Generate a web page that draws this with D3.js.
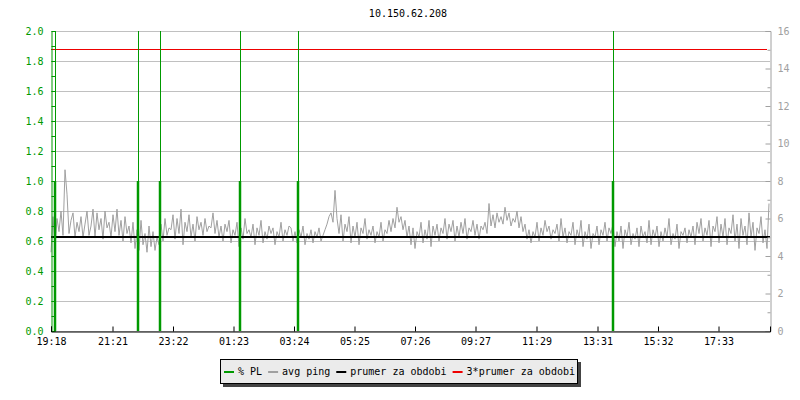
<!DOCTYPE html>
<html>
<head>
<meta charset="utf-8">
<script src="https://cdn.jsdelivr.net/npm/d3@7"></script>
<style>
  body { margin: 0; background: #fff; }
  text { font-family: "DejaVu Sans Mono", monospace; font-size: 10px; }
</style>
</head>
<body>
<div id="chart"></div>
<script>
// ping samples every 4 minutes, ms (right axis)
const pingMs = [
  4.2, 6.1, 4.5, 6.0, 5.3, 6.4, 5.1, 8.6, 7.3, 5.2, 5.9, 6.3, 5.0, 5.8, 5.3, 6.1, 5.0, 5.7, 6.4, 5.1,
  5.6, 6.5, 5.0, 6.3, 5.4, 6.0, 4.9, 6.4, 5.5, 5.8, 5.0, 6.2, 5.3, 6.5, 5.1, 5.9, 4.8, 6.1, 5.2, 5.6,
  4.7, 5.8, 4.4, 5.4, 4.3, 5.9, 4.6, 5.2, 4.2, 5.6, 4.5, 5.3, 4.3, 5.0, 4.6, 5.7, 4.8, 6.0, 5.1, 5.5,
  5.4, 6.2, 4.9, 6.0, 5.2, 6.5, 4.6, 5.8, 5.3, 6.2, 5.0, 5.7, 4.8, 6.1, 5.4, 5.8, 5.1, 6.0, 5.3, 5.6,
  5.5, 6.3, 5.2, 5.9, 5.0, 5.6, 4.8, 5.7, 5.3, 5.9, 4.7, 5.4, 5.1, 5.8, 4.5, 5.5, 4.9, 6.0, 5.2, 5.4,
  5.0, 5.7, 4.6, 5.5, 5.1, 5.9, 4.7, 5.3, 4.9, 5.6, 5.2, 5.5, 4.6, 5.3, 5.0, 5.8, 4.8, 5.4, 5.1, 5.6,
  5.5, 4.8, 5.3, 4.7, 5.4, 5.0, 5.6, 4.6, 5.2, 4.9, 5.4, 4.7, 5.3, 5.0, 5.5, 4.8, 5.1, 5.4, 5.7, 6.1,
  6.3, 5.8, 7.5, 6.0, 5.2, 6.2, 4.8, 5.7, 5.3, 6.1, 4.7, 5.6, 5.0, 5.8, 4.6, 5.5, 5.2, 6.0, 4.9, 5.4,
  5.1, 5.6, 4.7, 5.3, 5.0, 5.8, 4.8, 5.4, 5.2, 5.9, 5.3, 6.0, 5.5, 6.6, 5.8, 6.1, 5.4, 5.9, 5.0, 5.6,
  4.6, 5.5, 4.4, 5.3, 5.0, 5.8, 4.7, 5.4, 4.9, 5.9, 4.5, 5.6, 5.1, 5.7, 4.8, 5.5, 5.2, 6.0, 4.9, 5.7,
  5.3, 5.9, 4.8, 5.6, 5.0, 5.8, 5.2, 6.0, 4.9, 5.5, 5.3, 5.9, 5.1, 5.7, 4.9, 5.6, 5.4, 5.8, 5.2, 6.8,
  5.6, 6.2, 5.5, 6.3, 5.8, 6.1, 5.7, 6.6, 5.9, 6.3, 5.6, 6.0, 5.8, 6.4, 5.5, 6.1, 5.3, 5.7, 4.9, 5.4,
  4.7, 5.3, 5.0, 5.8, 4.8, 5.5, 5.1, 5.9, 5.3, 5.6, 4.9, 5.4, 5.2, 5.7, 4.8, 6.0, 5.0, 5.5, 4.7, 5.3,
  5.1, 5.8, 4.6, 5.4, 5.0, 5.9, 4.5, 5.3, 4.9, 5.7, 4.4, 5.2, 5.0, 5.6, 4.6, 5.4, 5.1, 5.8, 4.8, 5.5,
  5.2, 5.7, 4.5, 5.3, 4.8, 5.6, 4.4, 5.4, 5.0, 5.8, 4.6, 5.2, 4.9, 5.5, 4.5, 5.6, 5.0, 5.3, 4.7, 5.9,
  4.6, 5.4, 5.0, 5.6, 4.5, 5.3, 4.8, 5.5, 5.0, 6.0, 4.6, 5.2, 4.9, 5.7, 4.4, 5.3, 5.1, 5.5, 4.7, 5.4,
  5.0, 5.6, 4.6, 5.8, 5.2, 6.0, 4.8, 5.5, 5.1, 5.9, 4.5, 5.6, 5.3, 6.1, 4.7, 5.7, 5.0, 6.0, 4.6, 5.5,
  5.2, 6.2, 4.8, 5.7, 4.4, 6.0, 5.1, 5.6, 4.6, 6.3, 5.0, 5.8, 4.3, 5.5, 5.2, 6.1, 4.7, 5.4, 4.4, 6.8
];
const stepMin = 4;

// packet loss events (% PL, left axis)
const plTimes = ["19:25", "22:11", "22:55", "01:35", "03:31", "14:01"];
const plValues = [1, 1, 1, 1, 1, 1];

const avgPing = 5.01; // prumer za obdobi
const tickLabels = ["19:18", "21:21", "23:22", "01:23", "03:24", "05:25",
                    "07:26", "09:27", "11:29", "13:31", "15:32", "17:33"];
const title = "10.150.62.208";
const legendLabels = ["% PL", "avg ping", "prumer za obdobi", "3*prumer za obdobi"];
const legendColors = ["#009900", "#a0a0a0", "#000000", "#ee0000"];

let width = 800, height = 400;
let plot = { left: 51, right: 770, top: 31, bottom: 331 };

const start = new Date(2020, 0, 1, 19, 18);
function toDate(s) {
  let p = s.split(":").map(Number);
  let d = new Date(2020, 0, 1, p[0], p[1]);
  if (d < start) d = new Date(2020, 0, 2, p[0], p[1]);
  return d;
}

let svg = d3.select("#chart").append("svg")
  .attr("width", width).attr("height", height);
svg.append("rect").attr("width", width).attr("height", height).attr("fill", "#fff");

var x = d3.scaleTime()
  .domain([start, d3.timeMinute.offset(start, 1438)])
  .range([plot.left, plot.right]);
var yL = d3.scaleLinear().domain([0, 2]).range([plot.bottom, plot.top]);
var yR = d3.scaleLinear().domain([0, 16]).range([plot.bottom, plot.top]);

// title
svg.append("text").attr("x", 408).attr("y", 17)
  .attr("text-anchor", "middle").attr("fill", "#000").text(title);

// grid
svg.append("g").selectAll("line")
  .data(d3.range(0, 2.01, 0.2))
  .enter().append("line")
  .attr("x1", plot.left).attr("x2", plot.right)
  .attr("y1", d => Math.round(yL(d)) + 0.5).attr("y2", d => Math.round(yL(d)) + 0.5)
  .attr("stroke", "#c0c0c0").attr("stroke-width", 1);

// ping line
var pingData = pingMs.map((v, i) => ({ t: d3.timeMinute.offset(start, i * stepMin), v: v }));
svg.append("path")
  .datum(pingData)
  .attr("fill", "none")
  .attr("stroke", "#a0a0a0")
  .attr("stroke-width", 1)
  .attr("d", d3.line().x(d => x(d.t)).y(d => yR(d.v)));

// average line + 3*average
svg.append("line")
  .attr("x1", plot.left).attr("x2", plot.right)
  .attr("y1", yR(avgPing)).attr("y2", yR(avgPing))
  .attr("stroke", "#000").attr("stroke-width", 2);
svg.append("line")
  .attr("x1", plot.left).attr("x2", plot.right - 3)
  .attr("y1", Math.round(yR(3 * avgPing)) + 0.5).attr("y2", Math.round(yR(3 * avgPing)) + 0.5)
  .attr("stroke", "#ee0000").attr("stroke-width", 1);

// packet loss
var pl = svg.append("g").selectAll("g")
  .data(plTimes.map((t, i) => ({ t: toDate(t), v: plValues[i] })))
  .enter().append("g");
pl.append("line")
  .attr("x1", d => Math.round(x(d.t)) + 0.5).attr("x2", d => Math.round(x(d.t)) + 0.5)
  .attr("y1", plot.top).attr("y2", plot.bottom)
  .attr("stroke", "#009900").attr("stroke-width", 1);
pl.append("line")
  .attr("x1", d => Math.round(x(d.t))).attr("x2", d => Math.round(x(d.t)))
  .attr("y1", d => yL(d.v)).attr("y2", plot.bottom)
  .attr("stroke", "#009900").attr("stroke-width", 2.5);

// left axis (green)
var yAxisL = d3.axisLeft(yL)
  .tickValues(d3.range(0, 2.01, 0.1))
  .tickSize(-4).tickPadding(8)
  .tickFormat((d, i) => i % 2 == 0 ? d3.format(".1f")(d) : "");
var gL = svg.append("g")
  .attr("transform", "translate(" + (plot.left + 0.5) + ",0)")
  .call(yAxisL);
gL.select(".domain").attr("stroke", "#009900");
gL.selectAll(".tick line").attr("stroke", "#009900");
gL.selectAll("text").attr("fill", "#009900").style("font-size", "10px").style("font-family", "DejaVu Sans Mono");

// right axis (grey)
var yAxisR = d3.axisRight(yR).tickValues(d3.range(0, 17, 2))
  .tickSize(-5).tickPadding(7);
var gR = svg.append("g")
  .attr("transform", "translate(" + (plot.right + 0.5) + ",0)")
  .call(yAxisR);
var yAxisR2 = d3.axisRight(yR).tickValues(d3.range(1, 16, 2))
  .tickSize(-3).tickFormat("");
var gR2 = svg.append("g")
  .attr("transform", "translate(" + (plot.right + 0.5) + ",0)")
  .call(yAxisR2);
gR2.select(".domain").remove();
[gR, gR2].forEach(g => {
  g.selectAll(".domain, .tick line").attr("stroke", "#a0a0a0");
});
gR.selectAll("text").attr("fill", "#a0a0a0").style("font-size", "10px").style("font-family", "DejaVu Sans Mono");

// bottom axis
var xAxis = d3.axisBottom(x)
  .tickValues(tickLabels.map(toDate))
  .tickFormat(d3.timeFormat("%H:%M"))
  .tickSize(-5).tickPadding(6);
var gX = svg.append("g")
  .attr("transform", "translate(0," + (plot.bottom + 0.5) + ")")
  .call(xAxis);
gX.select(".domain").attr("stroke", "#000");
gX.selectAll("text").attr("fill", "#000").style("font-size", "10px").style("font-family", "DejaVu Sans Mono");

// legend
var leg = svg.append("g");
leg.append("rect").attr("x", 223).attr("y", 362).attr("width", 358).attr("height", 25).attr("fill", "#444");
leg.append("rect").attr("x", 220.5).attr("y", 359.5).attr("width", 357).attr("height", 24)
  .attr("fill", "#ebebeb").attr("stroke", "#000");
let lx = 224;
legendLabels.forEach((lab, i) => {
  leg.append("line").attr("x1", lx).attr("x2", lx + 10)
    .attr("y1", 372).attr("y2", 372)
    .attr("stroke", legendColors[i]).attr("stroke-width", 2);
  let t = leg.append("text").attr("x", lx + 14).attr("y", 375).attr("fill", "#000").text(lab);
  lx += 14 + t.node().getComputedTextLength() + 6;
});
</script>
</body>
</html>
